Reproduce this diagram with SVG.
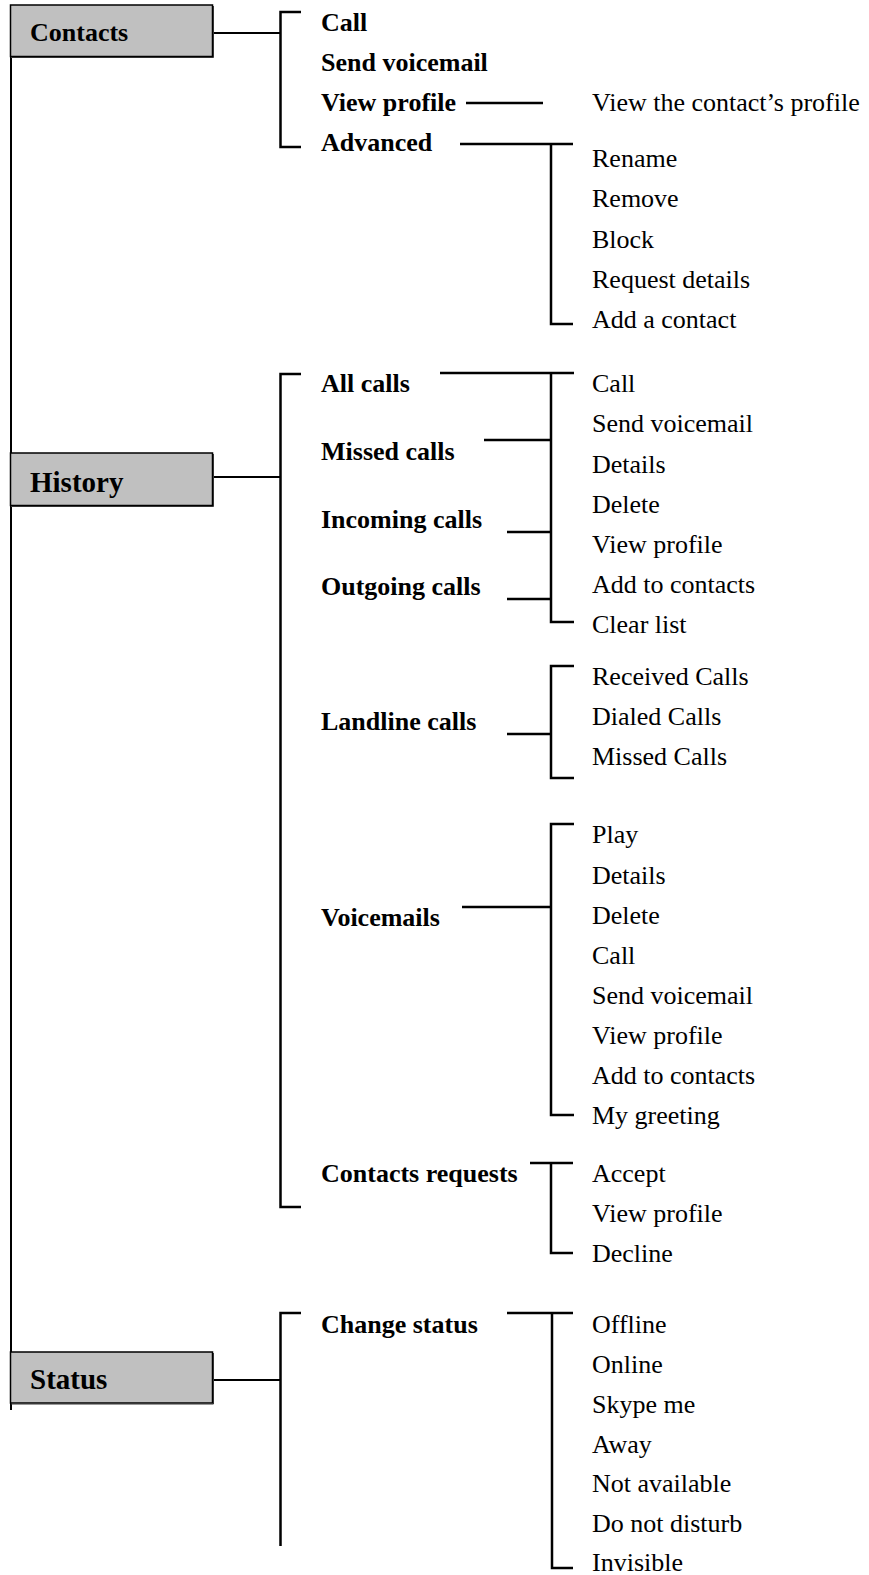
<svg xmlns="http://www.w3.org/2000/svg" width="869" height="1575" viewBox="0 0 869 1575">
<style>
.box{fill:#c0c0c0;stroke:#000;stroke-width:1.5}
.shadow{fill:none;stroke:#333;stroke-width:1}
.ln{fill:none;stroke:#000;stroke-width:2.5;stroke-linecap:butt}
.sp{fill:none;stroke:#000;stroke-width:2}
.t1{font-family:"Liberation Serif","Times New Roman",serif;font-weight:bold;fill:#000}
.t2{font-family:"Liberation Serif","Times New Roman",serif;font-weight:bold;font-size:26px;fill:#000}
.t3{font-family:"Liberation Serif","Times New Roman",serif;font-size:26px;fill:#000}
</style>
<rect width="869" height="1575" fill="#fff"/>
<g id="connectors">
  <path class="sp" d="M11,57 V453 M11,506 V1352 M11,1403 V1410"/>
  <path class="sp" d="M213,33 H281 M213,477 H281 M213,1380 H281"/>
  <path class="ln" d="M301,12 H280.5 V147 H301"/>
  <path class="ln" d="M301,374 H280.5 V1207 H301"/>
  <path class="ln" d="M301,1313 H280.5 V1546"/>
  <path class="ln" d="M466,103 H543"/>
  <path class="ln" d="M460,144 H573 M551,144 V324 H573"/>
  <path class="ln" d="M440,373 H574 M551,373 V622 H574 M484,440 H551 M507,532 H551 M507,599 H551"/>
  <path class="ln" d="M574,666 H551 V778 H574 M507,734 H551"/>
  <path class="ln" d="M574,824 H551 V1115 H574 M462,907 H551"/>
  <path class="ln" d="M530,1163 H573 M551,1163 V1253 H573"/>
  <path class="ln" d="M507,1313 H573 M552,1313 V1568 H573"/>
</g>
<g id="node-contacts">
  <rect class="box" x="10.5" y="5" width="202" height="51.5"/>
  <path class="shadow" d="M213.5,6 V57.5 H11"/>
  <text class="t1" x="30" y="41" font-size="26">Contacts</text>
</g>
<g id="node-history">
  <rect class="box" x="10.5" y="453" width="202" height="52.5"/>
  <path class="shadow" d="M213.5,454 V506.5 H11"/>
  <text class="t1" x="30" y="492" font-size="29">History</text>
</g>
<g id="node-status">
  <rect class="box" x="10.5" y="1352" width="202" height="51"/>
  <path class="shadow" d="M213.5,1353 V1404 H11"/>
  <text class="t1" x="30" y="1389" font-size="29">Status</text>
</g>
<g id="contacts-items">
  <text class="t2" x="321" y="30.7">Call</text>
  <text class="t2" x="321" y="71">Send voicemail</text>
  <text class="t2" x="321" y="111">View profile</text>
  <text class="t2" x="321" y="151.3">Advanced</text>
  <text class="t3" x="592" y="111">View the contact’s profile</text>
  <text class="t3" x="592" y="167.3">Rename</text>
  <text class="t3" x="592" y="207.4">Remove</text>
  <text class="t3" x="592" y="247.6">Block</text>
  <text class="t3" x="592" y="287.8">Request details</text>
  <text class="t3" x="592" y="328">Add a contact</text>
</g>
<g id="history-items">
  <text class="t2" x="321" y="392.3">All calls</text>
  <text class="t2" x="321" y="459.7">Missed calls</text>
  <text class="t2" x="321" y="528">Incoming calls</text>
  <text class="t2" x="321" y="595.3">Outgoing calls</text>
  <text class="t2" x="321" y="729.9">Landline calls</text>
  <text class="t2" x="321" y="925.7">Voicemails</text>
  <text class="t2" x="321" y="1181.8">Contacts requests</text>
  <text class="t3" x="592" y="392.3">Call</text>
  <text class="t3" x="592" y="432.4">Send voicemail</text>
  <text class="t3" x="592" y="472.6">Details</text>
  <text class="t3" x="592" y="512.8">Delete</text>
  <text class="t3" x="592" y="553">View profile</text>
  <text class="t3" x="592" y="593.2">Add to contacts</text>
  <text class="t3" x="592" y="633.3">Clear list</text>
  <text class="t3" x="592" y="684.6">Received Calls</text>
  <text class="t3" x="592" y="724.8">Dialed Calls</text>
  <text class="t3" x="592" y="765">Missed Calls</text>
  <text class="t3" x="592" y="843.3">Play</text>
  <text class="t3" x="592" y="883.5">Details</text>
  <text class="t3" x="592" y="923.6">Delete</text>
  <text class="t3" x="592" y="963.8">Call</text>
  <text class="t3" x="592" y="1004">Send voicemail</text>
  <text class="t3" x="592" y="1044.2">View profile</text>
  <text class="t3" x="592" y="1084.4">Add to contacts</text>
  <text class="t3" x="592" y="1123.5">My greeting</text>
  <text class="t3" x="592" y="1181.8">Accept</text>
  <text class="t3" x="592" y="1222">View profile</text>
  <text class="t3" x="592" y="1262.2">Decline</text>
</g>
<g id="status-items">
  <text class="t2" x="321" y="1332.5">Change status</text>
  <text class="t3" x="592" y="1332.5">Offline</text>
  <text class="t3" x="592" y="1372.7">Online</text>
  <text class="t3" x="592" y="1412.9">Skype me</text>
  <text class="t3" x="592" y="1453">Away</text>
  <text class="t3" x="592" y="1492.2">Not available</text>
  <text class="t3" x="592" y="1532.4">Do not disturb</text>
  <text class="t3" x="592" y="1571">Invisible</text>
</g>
</svg>
